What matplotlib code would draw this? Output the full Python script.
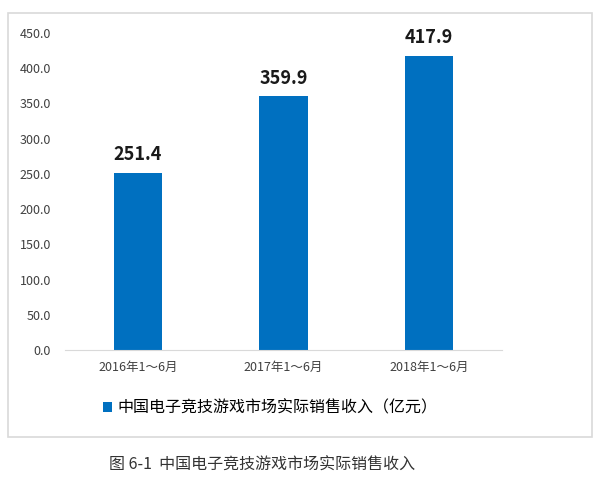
import numpy as np
import matplotlib.pyplot as plt
from matplotlib.patches import Rectangle

plt.rcParams['font.family'] = ['Noto Sans CJK SC', 'DejaVu Sans']

categories = ['2016年1～6月', '2017年1～6月', '2018年1～6月']
revenue = [251.4, 359.9, 417.9]
series_name = '中国电子竞技游戏市场实际销售收入（亿元）'
caption = '图 6-1  中国电子竞技游戏市场实际销售收入'

fig = plt.figure(figsize=(6, 4.93), dpi=100)
fig.patches.append(Rectangle((8 / 600, 1 - 437 / 493), 584 / 600, 424 / 493,
                             transform=fig.transFigure, fill=False,
                             edgecolor='#d9d9d9', lw=1.2))

ax = fig.add_axes([65 / 600, 1 - 350 / 493, 437 / 600, 317 / 493])
x = np.arange(len(categories))
bars = ax.bar(x, revenue, width=0.33, color='#0070c0', label=series_name)
for b, v in zip(bars, revenue):
    ax.text(b.get_x() + b.get_width() / 2, v + 12, f'{v:.1f}', ha='center', va='bottom',
            fontsize=13, fontweight='bold', color='#1a1a1a')

ax.set_xlim(-0.5, len(categories) - 0.5)
ax.set_ylim(0, 450)
ax.set_yticks(np.arange(0, 451, 50))
ax.set_yticklabels([f'{t:.1f}' for t in np.arange(0, 451, 50)], fontsize=9, color='#404040')
ax.set_xticks(x)
ax.set_xticklabels(categories, fontsize=9, color='#404040')
ax.tick_params(length=0, pad=8)
ax.tick_params(axis='y', pad=10)
for s in ['top', 'right', 'left']:
    ax.spines[s].set_visible(False)
ax.spines['bottom'].set_color('#d9d9d9')

fig.legend(handles=[bars], labels=[series_name], loc='center', bbox_to_anchor=(0.45, 1 - 408 / 493),
           frameon=False, fontsize=11.5, handlelength=0.6, handleheight=0.6, handletextpad=0.3)

fig.text(262 / 600, 1 - 465 / 493, caption, ha='center', va='center', fontsize=11.5, color='#333333')

fig.savefig('out.png', dpi=100)
